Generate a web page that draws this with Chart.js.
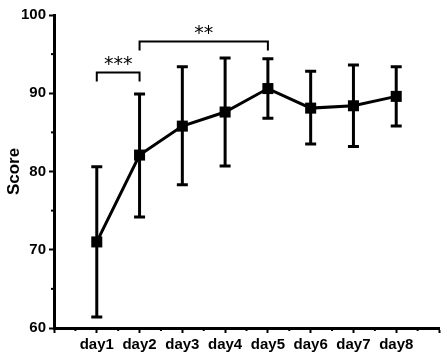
<!DOCTYPE html>
<html><head><meta charset="utf-8">
<script src="https://cdn.jsdelivr.net/npm/chart.js@4.4.1/dist/chart.umd.min.js"></script>
<style>html,body{margin:0;padding:0;background:#fff}#wrap{width:447px;height:361px;position:relative}</style>
</head><body><div id="wrap"><canvas id="c" width="447" height="361"></canvas></div>
<script>
const days = ['day1','day2','day3','day4','day5','day6','day7','day8'];
const dayPos = [1,2,3,4,5,6,7,8];
const means = [71.0, 82.1, 85.8, 87.6, 90.6, 88.1, 88.4, 89.6];
const errUpper = [80.6, 89.9, 93.4, 94.5, 94.4, 92.8, 93.6, 93.4];
const errLower = [61.4, 74.2, 78.3, 80.7, 86.8, 83.5, 83.2, 85.8];
const yTickLabels = [60, 70, 80, 90, 100];
const sigFrom = [1, 2];
const sigTo = [2, 5];
const sigLevel = [92.65, 96.6];
const sigLabel = ['***', '**'];

const FONT = '"Liberation Sans", Arial, sans-serif';

const extras = {
  id: 'extras',
  beforeDatasetsDraw(chart) {
    const ctx = chart.ctx, x = chart.scales.x, y = chart.scales.y;
    ctx.save();
    ctx.strokeStyle = '#000';
    ctx.lineWidth = 3;
    ctx.lineCap = 'butt';
    dayPos.forEach((d, i) => {
      const px = x.getPixelForValue(d);
      const top = y.getPixelForValue(errUpper[i]);
      const bot = y.getPixelForValue(errLower[i]);
      ctx.beginPath();
      ctx.moveTo(px, top); ctx.lineTo(px, bot);
      ctx.moveTo(px - 5.5, top); ctx.lineTo(px + 5.5, top);
      ctx.moveTo(px - 5.5, bot); ctx.lineTo(px + 5.5, bot);
      ctx.stroke();
    });
    ctx.restore();
  },
  afterDraw(chart) {
    const ctx = chart.ctx, x = chart.scales.x, y = chart.scales.y;
    ctx.save();
    ctx.strokeStyle = '#000';
    ctx.fillStyle = '#000';
    // minor ticks
    ctx.lineWidth = 2;
    const xb = y.getPixelForValue(60);
    for (let v = 0.5; v < 9; v += 1) {
      const px = x.getPixelForValue(v);
      ctx.beginPath(); ctx.moveTo(px, xb); ctx.lineTo(px, xb + 3); ctx.stroke();
    }
    const yl = x.getPixelForValue(0);
    for (let v = 65; v < 100; v += 10) {
      const py = y.getPixelForValue(v);
      ctx.beginPath(); ctx.moveTo(yl, py); ctx.lineTo(yl - 3, py); ctx.stroke();
    }
    // significance brackets
    ctx.lineWidth = 2;
    sigFrom.forEach((f, i) => {
      const x1 = x.getPixelForValue(f), x2 = x.getPixelForValue(sigTo[i]);
      const py = y.getPixelForValue(sigLevel[i]);
      ctx.beginPath();
      ctx.moveTo(x1, py + 9); ctx.lineTo(x1, py); ctx.lineTo(x2, py); ctx.lineTo(x2, py + 9);
      ctx.stroke();
      ctx.font = '19px "DejaVu Sans", sans-serif';
      ctx.textAlign = 'center';
      ctx.textBaseline = 'alphabetic';
      ctx.fillText(sigLabel[i], (x1 + x2) / 2, py - 3);
    });
    ctx.restore();
  }
};

new Chart(document.getElementById('c'), {
  type: 'line',
  data: {
    datasets: [{
      data: dayPos.map((d, i) => ({x: d, y: means[i]})),
      borderColor: '#000',
      borderWidth: 3,
      pointStyle: 'rect',
      pointRadius: 7.8,
      pointBorderWidth: 0,
      pointBackgroundColor: '#000',
      tension: 0
    }]
  },
  options: {
    responsive: false,
    animation: false,
    events: [],
    layout: {padding: {left: 0, right: 8, top: 15, bottom: 0}},
    plugins: {legend: {display: false}, tooltip: {enabled: false}},
    scales: {
      x: {
        type: 'linear', min: 0, max: 9,
        afterFit(s) { s.height = 33; },
        border: {color: '#000', width: 3},
        grid: {drawOnChartArea: false, drawTicks: true, tickLength: 5, tickWidth: 2,
          tickColor: c => Number.isInteger(c.tick.value) ? '#000' : 'rgba(0,0,0,0)'},
        ticks: {
          stepSize: 0.5, autoSkip: false, maxRotation: 0, padding: 3,
          color: '#000', font: {family: FONT, size: 15, weight: 'bold'},
          callback: v => (Number.isInteger(v) && v >= 1 && v <= 8) ? days[v - 1] : ''
        }
      },
      y: {
        min: 60, max: 100,
        afterFit(s) { s.width = 54; },
        border: {color: '#000', width: 3},
        grid: {drawOnChartArea: false, drawTicks: true, tickLength: 5, tickWidth: 2,
          tickColor: c => yTickLabels.includes(c.tick.value) ? '#000' : 'rgba(0,0,0,0)'},
        title: {display: true, text: 'Score', color: '#000', padding: {top: 4, bottom: 2},
          font: {family: FONT, size: 17, weight: 'bold'}},
        ticks: {
          stepSize: 5, padding: 3, color: '#000',
          font: {family: FONT, size: 15, weight: 'bold'},
          callback: v => yTickLabels.includes(v) ? String(v) : ''
        }
      }
    }
  },
  plugins: [extras]
});
</script>
</body></html>
